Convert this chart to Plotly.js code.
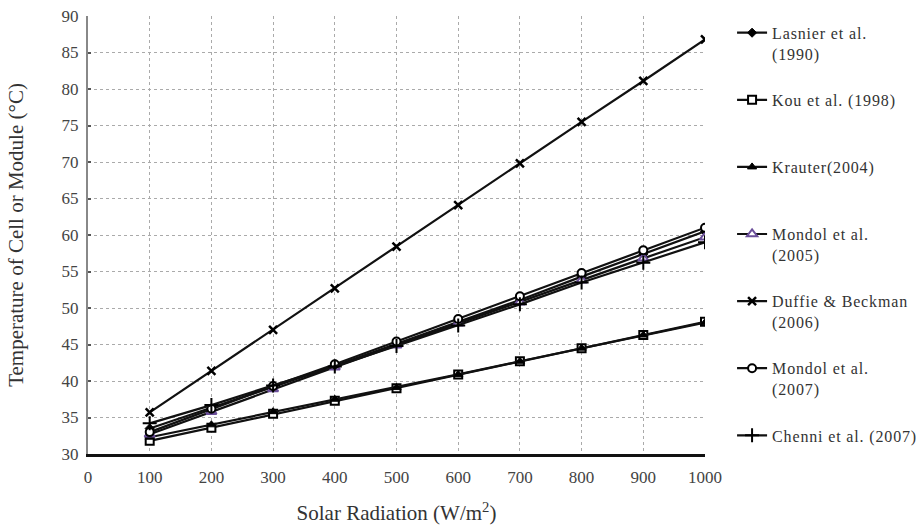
<!DOCTYPE html>
<html>
<head>
<meta charset="utf-8">
<script src="https://cdn.plot.ly/plotly-3.0.1.min.js"></script>
<style>body{margin:0;padding:0;background:#fff}#chart{width:922px;height:527px}.legendtext{letter-spacing:0.85px}</style>
</head>
<body>
<div id="chart"></div>
<script>
const radiation = [100, 200, 300, 400, 500, 600, 700, 800, 900, 1000];
const lasnier1990 = [33.5, 36.3, 39.2, 42.1, 45.1, 48.1, 51.1, 54.3, 57.4, 60.5];
const kou1998 = [31.8, 33.6, 35.5, 37.3, 39.0, 40.9, 42.7, 44.5, 46.3, 48.1];
const krauter2004 = [32.3, 34.0, 35.8, 37.5, 39.1, 40.9, 42.7, 44.5, 46.3, 48.0];
const mondol2005 = [32.7, 35.8, 38.9, 41.9, 44.9, 47.9, 50.8, 53.8, 56.8, 59.7];
const duffie2006 = [35.7, 41.4, 47.0, 52.7, 58.4, 64.1, 69.8, 75.5, 81.1, 86.8];
const mondol2007 = [33.0, 36.2, 39.3, 42.3, 45.4, 48.5, 51.6, 54.8, 57.9, 61.0];
const chenni2007 = [34.2, 36.7, 39.4, 42.0, 44.8, 47.6, 50.5, 53.5, 56.2, 59.0];
const seriesNames = ["Lasnier et al.<br>(1990)", "Kou et al. (1998)<br> ", "Krauter(2004)<br> ", "Mondol et al.<br>(2005)", "Duffie &amp; Beckman<br>(2006)", "Mondol et al.<br>(2007)", "Chenni et al. (2007)<br> "];
const xTicks = [0, 100, 200, 300, 400, 500, 600, 700, 800, 900, 1000];
const yTicks = [30, 35, 40, 45, 50, 55, 60, 65, 70, 75, 80, 85, 90];

const seriesData = [lasnier1990, kou1998, krauter2004, mondol2005, duffie2006, mondol2007, chenni2007];
const markers = [
  {symbol: 'diamond', size: 7, color: '#000', line: {color: '#000', width: 1}},
  {symbol: 'square', size: 8, color: '#fff', line: {color: '#000', width: 2}},
  {symbol: 'triangle-up', size: 8, color: '#000', line: {color: '#000', width: 1}},
  {symbol: 'triangle-up', size: 9, color: '#fff', line: {color: '#6b4f9a', width: 2}},
  {symbol: 'x-thin', size: 8, color: '#000', line: {color: '#000', width: 2.5}},
  {symbol: 'circle', size: 8, color: '#fff', line: {color: '#000', width: 2}},
  {symbol: 'cross-thin', size: 10, color: '#000', line: {color: '#000', width: 2}}
];

const traces = seriesData.map((ys, i) => ({
  x: radiation,
  y: ys,
  name: seriesNames[i],
  type: 'scatter',
  mode: 'lines+markers',
  line: {color: '#111', width: 2.2},
  marker: markers[i],
  legendgroup: 'g' + i
}));

const font = 'Liberation Serif, Times New Roman, serif';
const layout = {
  width: 922, height: 527,
  margin: {l: 88, r: 217, t: 16, b: 73},
  paper_bgcolor: '#fff', plot_bgcolor: '#fff',
  font: {family: font, color: '#333', size: 17},
  showlegend: true,
  legend: {
    xref: 'container', yref: 'container',
    x: 0.794, y: 0.970, xanchor: 'left', yanchor: 'top',
    maxheight: 520,
    font: {family: font, size: 16, color: '#333'},
    valign: 'top', tracegroupgap: 22.5, bgcolor: 'rgba(0,0,0,0)'
  },
  xaxis: {
    range: [0, 1000], tickvals: xTicks, ticktext: xTicks.map(String),
    showgrid: true, gridcolor: '#aaa', griddash: 'dot', gridwidth: 1,
    showline: true, linecolor: '#111', linewidth: 2.5, zeroline: false,
    ticks: '', ticklabelstandoff: 6, tickfont: {family: font, size: 17, color: '#444'},
    title: {text: 'Solar Radiation (W/m<sup>2</sup>)', font: {family: font, size: 21, color: '#333'}, standoff: 20}
  },
  yaxis: {
    range: [30, 90], tickvals: yTicks, ticktext: yTicks.map(String),
    showgrid: true, gridcolor: '#aaa', griddash: 'dot', gridwidth: 1,
    showline: true, linecolor: '#888', linewidth: 2, zeroline: false,
    ticks: 'inside', ticklen: 3, tickcolor: '#555', tickwidth: 2,
    ticklabelstandoff: 4,
    tickfont: {family: font, size: 17, color: '#444'},
    title: {text: 'Temperature of Cell or Module (°C)', font: {family: font, size: 21, color: '#333'}, standoff: 32}
  }
};

Plotly.newPlot('chart', traces, layout, {displayModeBar: false, staticPlot: true});
</script>
</body>
</html>
